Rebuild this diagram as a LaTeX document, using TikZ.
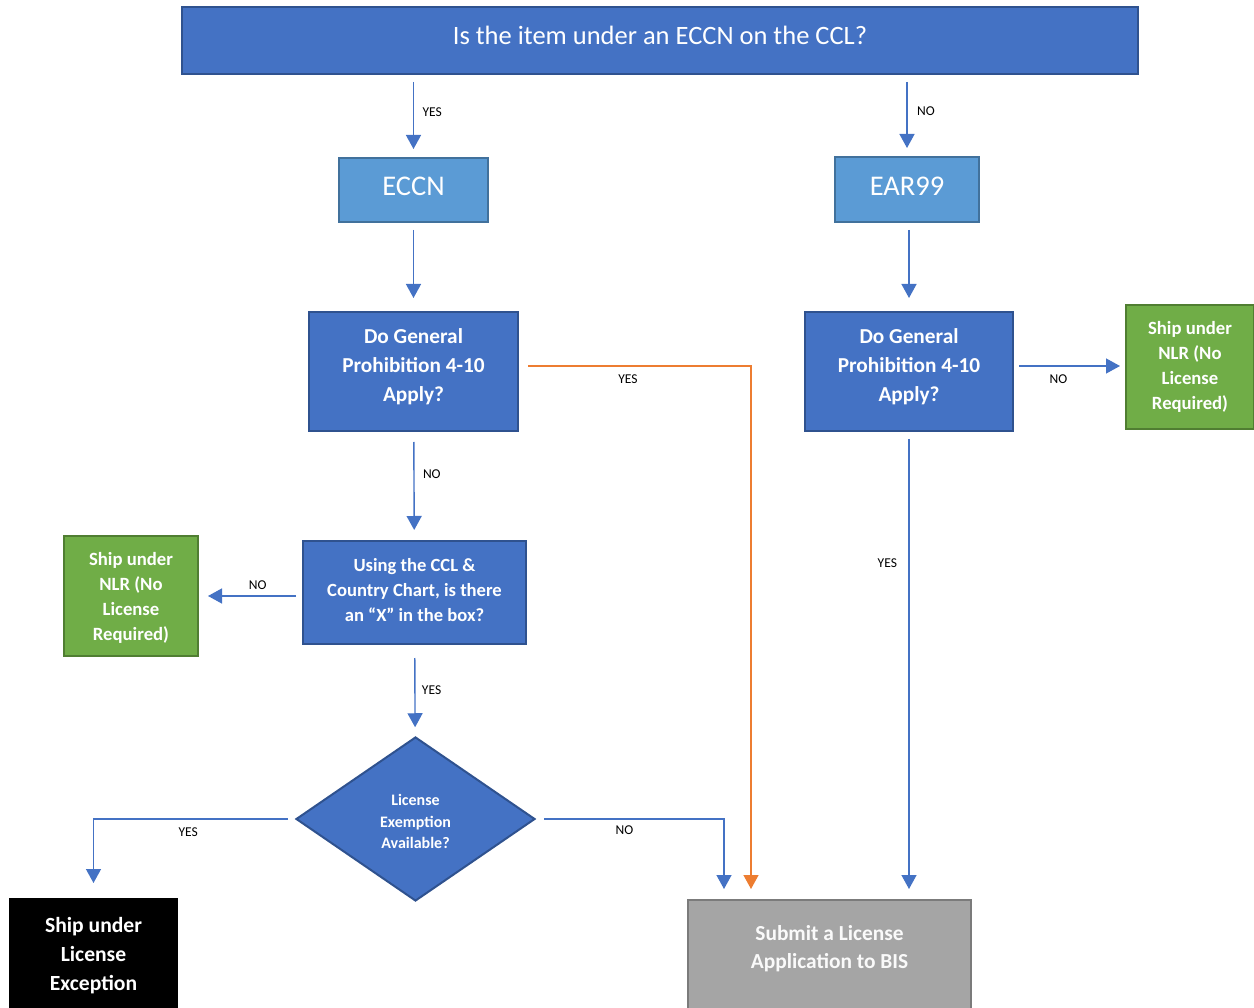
\documentclass[tikz,border=0pt]{standalone}
\usepackage{fontspec}
\setmainfont{Carlito}
\usetikzlibrary{arrows.meta,shapes.geometric}
\definecolor{boxblue}{HTML}{4472C4}
\definecolor{edgeblue}{HTML}{2F528F}
\definecolor{paleblue}{HTML}{5B9BD5}
\definecolor{paleedge}{HTML}{41719C}
\definecolor{boxgreen}{HTML}{70AD47}
\definecolor{edgegreen}{HTML}{507E32}
\definecolor{boxgray}{HTML}{A5A5A5}
\definecolor{edgegray}{HTML}{7B7B7B}
\definecolor{lineblue}{HTML}{4472C4}
\definecolor{lineorange}{HTML}{ED7D31}
\begin{document}
\begin{tikzpicture}[x=1pt,y=-1pt,
    box/.style={draw,line width=2pt,inner sep=0pt,align=center,text=white},
    bluebox/.style={box,fill=boxblue,draw=edgeblue},
    palebox/.style={box,fill=paleblue,draw=paleedge,text height=20pt,text depth=8pt,font=\fontsize{28.5}{32}\selectfont},
    askbox/.style={bluebox,text depth=13pt,font=\bfseries\fontsize{21.3}{29}\selectfont},
    nlrbox/.style={box,fill=boxgreen,draw=edgegreen,font=\bfseries\fontsize{18.7}{25}\selectfont},
    flow/.style={draw=lineblue,line width=1.4pt,-{Triangle[width=15pt,length=14pt]}},
    lbl/.style={font=\fontsize{13.5}{15}\selectfont,text=black}]
        \useasboundingbox (0,0) rectangle (1254,1008);
        \clip (0,0) rectangle (1254,1008);
        % boxes
        \node [bluebox,minimum width=956,minimum height=67,text depth=10pt,font=\fontsize{26.5}{30}\selectfont] (item) at (660,40.5) {Is the item under an ECCN on the CCL?};
        \node [palebox,minimum width=149,minimum height=64] (eccn) at (413.5,190) {ECCN};
        \node [palebox,minimum width=144,minimum height=65] (ear) at (907,189.5) {EAR99};
        \node [askbox,minimum width=209,minimum height=119] (gpl) at (413.5,371.5) {Do General\\Prohibition 4-10\\Apply?};
        \node [askbox,minimum width=208,minimum height=119] (gpr) at (909,371.5) {Do General\\Prohibition 4-10\\Apply?};
        \node [nlrbox,minimum width=128,minimum height=124] (nlrr) at (1190,367) {Ship under\\NLR (No\\License\\Required)};
        \node [nlrbox,minimum width=134,minimum height=120] (nlrl) at (131,596) {\rule{0pt}{17pt}Ship under\\NLR (No\\License\\Required)};
        \node [bluebox,minimum width=223,minimum height=103,text depth=6pt,font=\bfseries\fontsize{18.6}{25}\selectfont] (ccl) at (414.5,592.5) {Using the CCL \&\\Country Chart, is there\\an “X” in the box?};
        \node [diamond,draw=edgeblue,fill=boxblue,line width=2pt,inner sep=0pt,align=center,text=white,
               minimum width=239,minimum height=164,font=\bfseries\fontsize{16}{21.5}\selectfont] (lex) at (415.5,819) {\rule{0pt}{17pt}License\\Exemption\\Available?};
        \node [box,fill=black,draw=black,minimum width=167,minimum height=130,text depth=21pt,
               font=\bfseries\fontsize{21.6}{29}\selectfont] (lexc) at (93.5,964) {Ship under\\License\\Exception};
        \node [box,fill=boxgray,draw=edgegray,text=white!95!boxgray,minimum width=283,minimum height=130,text depth=37pt,
               font=\bfseries\fontsize{21.4}{28}\selectfont] (bis) at (829.5,965) {Submit a License\\Application to BIS};
        % connectors
        \draw [flow,shorten <=7pt,shorten >=8pt] (item.south -| eccn.north) -- node [lbl,right=5pt,pos=0.45] {YES} (eccn.north);
        \draw [flow,shorten <=7pt,shorten >=8pt] (item.south -| ear.north) -- node [lbl,right=6pt,pos=0.45] {NO} (ear.north);
        \draw [flow,shorten <=7pt,shorten >=13pt] (eccn) -- (gpl);
        \draw [flow,shorten <=7pt,shorten >=13pt] (ear.south -| gpr.north) -- (gpr.north);
        \draw [flow,shorten <=10pt,shorten >=10pt] (gpl) -- node [lbl,right=5pt,pos=0.39] {NO} (ccl);
        \draw [flow,draw=lineorange,-{Triangle[width=15pt,length=14pt,fill=lineorange]},shorten <=9pt,shorten >=10pt]
            ([yshift=5.5pt]gpl.east) -| node [lbl,pos=0.235,below=5pt] {YES} ([xshift=-78.5pt]bis.north);
        \draw [flow,shorten <=5pt,shorten >=5pt] ([yshift=5.5pt]gpr.east) -- node [lbl,below=5pt,pos=0.4] {NO} ([yshift=5.5pt]gpr.east -| nlrr.west);
        \draw [flow,shorten <=7pt,shorten >=10pt] (gpr.south) -- node [lbl,left=8pt,pos=0.28] {YES} (gpr.south |- bis.north);
        \draw [flow,shorten <=6pt,shorten >=9pt] (ccl.west |- nlrl) -- node [lbl,above=2pt,pos=0.43] {NO} (nlrl);
        \draw [flow,shorten <=13pt,shorten >=9pt] (ccl) -- node [lbl,right=3pt] {YES} (lex);
        \draw [flow,shorten <=7pt,shorten >=15pt] (lex.west) -| node [lbl,pos=0.265,below=5pt] {YES} (lexc.north);
        \draw [flow,shorten <=8pt,shorten >=10pt] (lex.east) -| node [lbl,pos=0.235,below=3pt] {NO} ([xshift=-105.5pt]bis.north);
\end{tikzpicture}
\end{document}
